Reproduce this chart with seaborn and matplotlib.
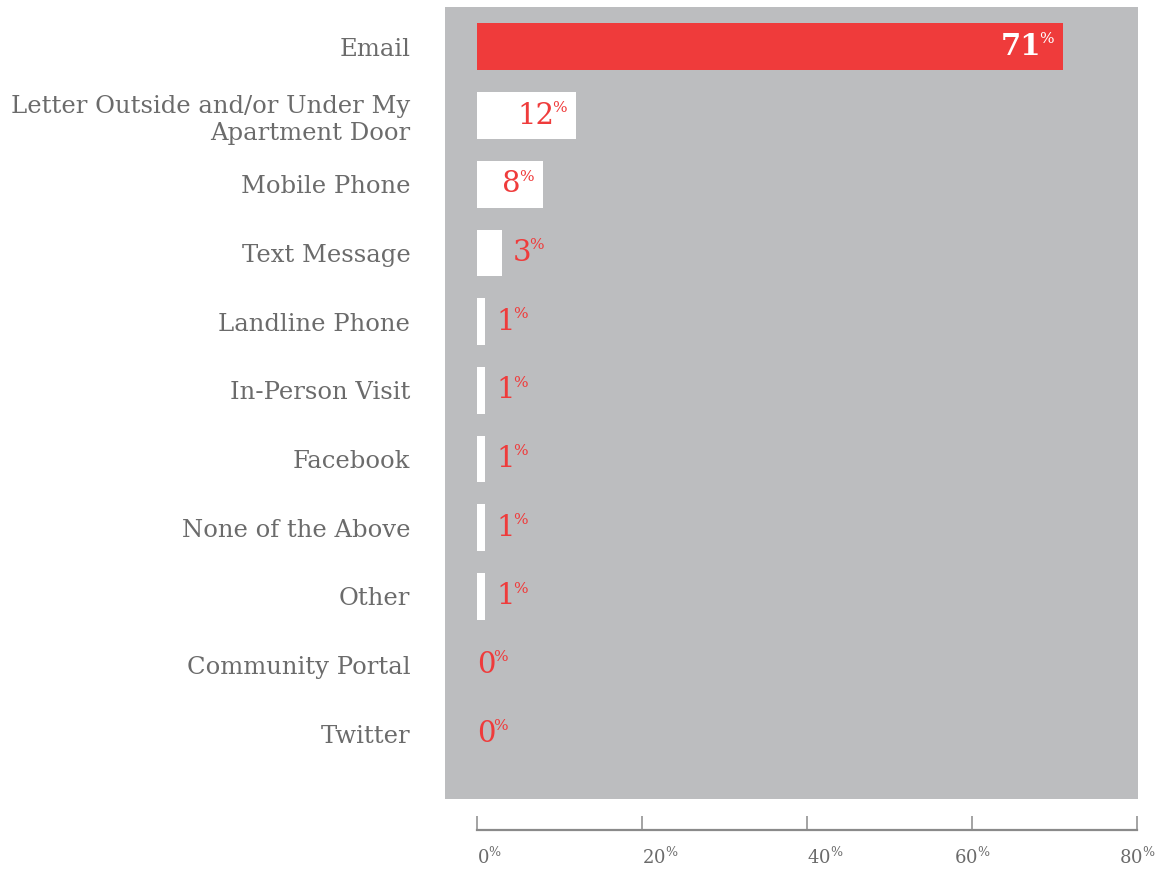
import matplotlib
matplotlib.use("Agg")
import matplotlib.pyplot as plt
import seaborn as sns
import pandas as pd

categories = ["Email", "Letter Outside and/or Under My\nApartment Door", "Mobile Phone",
              "Text Message", "Landline Phone", "In-Person Visit", "Facebook",
              "None of the Above", "Other", "Community Portal", "Twitter"]
values = [71, 12, 8, 3, 1, 1, 1, 1, 1, 0, 0]
tick_values = [0, 20, 40, 60, 80]

RED = "#EF3B3B"
PANEL = "#BCBDBF"
TXT = "#6B6B6B"

sns.set_theme(style="white")
plt.rcParams["font.family"] = ["DejaVu Serif"]
plt.rcParams["mathtext.fontset"] = "custom"
plt.rcParams["mathtext.rm"] = "DejaVu Serif"
plt.rcParams["mathtext.bf"] = "DejaVu Serif:bold"

df = pd.DataFrame({"channel": categories, "value": values})
colors = [RED] + ["white"] * (len(categories) - 1)

W, H = 1159, 873
fig = plt.figure(figsize=(W / 100, H / 100), dpi=100)
ax = fig.add_axes([445 / W, 1 - 799 / H, 693 / W, 792 / H])
ax.set_facecolor(PANEL)

sns.barplot(data=df, x="value", y="channel", hue="channel", palette=colors,
            legend=False, width=0.68, saturation=1, ax=ax, linewidth=0)

ax.set_xlim(-3.88, 80.12)
ax.set_ylim(10.95, -0.58)
for s in ax.spines.values():
    s.set_visible(False)
ax.set_xticks([])
ax.set_xlabel("")
ax.set_ylabel("")
ax.tick_params(axis="y", length=0, pad=25, labelsize=17.5, labelcolor=TXT)
for lab in ax.get_yticklabels():
    lab.set_linespacing(1.2)

PX = 0.72
for i, v in enumerate(values):
    col = "white" if i == 0 else RED
    weight = "bold" if i == 0 else "normal"
    if v >= 5:
        t = ax.annotate(str(v), (v, i), xytext=(-22 * PX, 0), textcoords="offset points",
                        ha="right", va="center", color=col, fontsize=21, fontweight=weight)
    else:
        off = 11 * PX if v > 0 else 0
        t = ax.annotate(str(v), (v, i), xytext=(off, 0), textcoords="offset points",
                        ha="left", va="center", color=col, fontsize=21, fontweight=weight)
    ax.annotate("%", xy=(1, 1), xycoords=t, xytext=(-1.5, 0.5), textcoords="offset points",
                ha="left", va="top", color=col, fontsize=11)

# bottom scale axis
bx = fig.add_axes([477 / W, 1 - 830 / H, 660 / W, 0.02])
bx.set_facecolor("none")
bx.set_xlim(0, 80)
bx.set_yticks([])
for k in ["top", "left", "right"]:
    bx.spines[k].set_visible(False)
bx.spines["bottom"].set_color("#8A8A8A")
bx.spines["bottom"].set_linewidth(1.6)
bx.set_xticks(tick_values)
bx.set_xticklabels([r"$\mathregular{%d^{\%%}}$" % t for t in tick_values])
bx.tick_params(axis="x", direction="in", length=10, width=1.1, color="#8A8A8A",
               pad=12, labelsize=13, labelcolor=TXT, bottom=True)
for j, lab in enumerate(bx.get_xticklabels()):
    lab.set_ha("left" if j < 3 else "center")

fig.savefig("out.png", dpi=100)
